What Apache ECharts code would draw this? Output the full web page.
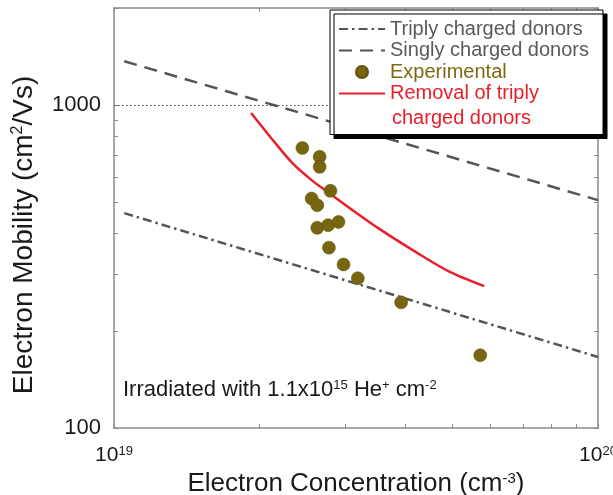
<!DOCTYPE html>
<html>
<head>
<meta charset="utf-8">
<script src="https://cdn.jsdelivr.net/npm/echarts@6/dist/echarts.min.js"></script>
<style>
  html, body { margin: 0; padding: 0; background: #fff; }
  #chart { width: 613px; height: 495px; }
</style>
</head>
<body>
<div id="chart"></div>
<script>
// 数据
const triplyX = [1.05e19, 1e20];
const triplyY = [463, 166];
const singlyX = [1.05e19, 1e20];
const singlyY = [1368, 508];
const expX = [2.45e19, 2.66e19, 2.66e19, 2.80e19, 2.56e19, 2.63e19, 2.63e19, 2.77e19, 2.91e19, 2.78e19, 2.98e19, 3.19e19, 3.92e19, 5.71e19];
const expY = [737, 692, 644, 543, 514, 490, 417, 425, 435, 362, 321, 291, 245, 168];
const removalX = [1.92e19, 2.13e19, 2.34e19, 2.56e19, 2.79e19, 3.11e19, 3.54e19, 4.24e19, 4.93e19, 5.82e19];
const removalY = [946, 779, 660, 586, 533, 473, 413, 348, 305, 275];
const refLineY = 1000;

const xTicks = [1e19, 2e19, 3e19, 4e19, 5e19, 6e19, 7e19, 8e19, 9e19, 1e20];
const xLabels = [1e19, 1e20];
const yTicks = [100, 200, 300, 400, 500, 600, 700, 800, 900, 1000, 2000];
const yLabels = [100, 1000];

const FONT = 'Liberation Sans, Arial, sans-serif';
const AXIS_COLOR = '#8a8a8a';

const zip = (xs, ys) => xs.map((x, i) => [x, ys[i]]);

function supRich(size, supSize) {
    return {
        b: { fontSize: size, fontFamily: FONT, color: '#1a1a1a' },
        s: { fontSize: supSize, fontFamily: FONT, color: '#1a1a1a', verticalAlign: 'top' }
    };
}

const chart = echarts.init(document.getElementById('chart'));

function xAxisCfg(pos, showLabel) {
    return {
        type: 'log',
        logBase: 10,
        position: pos,
        min: 1e19,
        max: 1e20,
        axisLine: { show: true, onZero: false, lineStyle: { color: AXIS_COLOR, width: 1.5 } },
        axisTick: { show: true, inside: true, length: 4, customValues: xTicks, lineStyle: { color: AXIS_COLOR } },
        axisLabel: {
            show: showLabel,
            customValues: xLabels,
            margin: 17,
            formatter: v => '{b|10}{s|' + Math.round(Math.log10(v)) + '}',
            rich: supRich(21, 13)
        },
        splitLine: { show: false },
        minorTick: { show: false }
    };
}

function yAxisCfg(pos, showLabel) {
    return {
        type: 'log',
        logBase: 10,
        position: pos,
        min: 100,
        max: 2000,
        axisLine: { show: true, onZero: false, lineStyle: { color: AXIS_COLOR, width: 1.5 } },
        axisTick: { show: true, inside: true, length: 4, customValues: yTicks, lineStyle: { color: AXIS_COLOR } },
        axisLabel: {
            show: showLabel,
            customValues: yLabels,
            margin: 13,
            fontSize: 22,
            fontFamily: FONT,
            color: '#1a1a1a',
            formatter: v => String(Math.round(v))
        },
        splitLine: { show: false },
        minorTick: { show: false }
    };
}

const xMain = xAxisCfg('bottom', true);
xMain.name = 'Electron Concentration (cm{s|-3})';
xMain.nameLocation = 'middle';
xMain.nameGap = 41;
xMain.nameTextStyle = { fontSize: 26, fontFamily: FONT, color: '#1a1a1a', rich: supRich(26, 15) };

const yMain = yAxisCfg('left', true);
yMain.name = 'Electron Mobility (cm{s|2}/Vs)';
yMain.nameLocation = 'middle';
yMain.nameGap = 76;
yMain.nameTextStyle = { fontSize: 28, fontFamily: FONT, color: '#1a1a1a', rich: supRich(28, 16), padding: [0, 34, 0, 0] };

const names = ['Triply charged donors', 'Singly charged donors', 'Experimental', 'Removal of triply charged donors'];

const option = {
    backgroundColor: '#fff',
    animation: false,
    grid: { left: 114, right: 15, top: 8, bottom: 67, containLabel: false, outerBoundsMode: 'none' },
    xAxis: [xMain, xAxisCfg('top', false)],
    yAxis: [yMain, yAxisCfg('right', false)],
    legend: {
        orient: 'vertical',
        left: 330,
        top: 10,
        padding: [9, 14, 31, 8],
        itemWidth: 46,
        itemHeight: 12,
        itemGap: 1.5,
        backgroundColor: '#fff',
        borderColor: '#000',
        borderWidth: 1,
        shadowColor: '#000',
        shadowBlur: 0,
        shadowOffsetX: 4,
        shadowOffsetY: 4,
        selectedMode: false,
        textStyle: { fontSize: 20, fontFamily: FONT, color: '#5a5a5a' },
        formatter: n => n === names[3] ? 'Removal of triply' : n,
        data: [
            { name: names[0], textStyle: { color: '#5a5a5a' }, itemStyle: { opacity: 0 } },
            { name: names[1], textStyle: { color: '#5a5a5a' }, itemStyle: { opacity: 0 } },
            { name: names[2], textStyle: { color: '#7b6a12' } },
            { name: names[3], textStyle: { color: '#e8202a' }, itemStyle: { opacity: 0 } }
        ],
        z: 10
    },
    graphic: [
        {
            type: 'text',
            left: 392,
            top: 108,
            z: 100,
            style: { text: 'charged donors', fill: '#e8202a', font: '20px ' + FONT }
        },
        {
            type: 'text',
            left: 123,
            top: 379,
            z: 100,
            style: {
                text: 'Irradiated with 1.1x10{s|15} He{s|+} cm{s|-2}',
                fill: '#1a1a1a',
                font: '22px ' + FONT,
                rich: {
                    s: { fontSize: 13, fontFamily: FONT, fill: '#1a1a1a', verticalAlign: 'top' }
                }
            }
        }
    ],
    series: [
        {
            name: names[0],
            type: 'line',
            data: zip(triplyX, triplyY),
            symbol: 'none',
            lineStyle: { color: '#555', width: 2.5, type: [9, 4, 2.5, 4] },
            itemStyle: { color: '#555' },
            markLine: {
                silent: true,
                symbol: 'none',
                label: { show: false },
                lineStyle: { color: '#444', width: 1, type: [1.5, 2.5] },
                data: [{ yAxis: refLineY }]
            },
            z: 3
        },
        {
            name: names[1],
            type: 'line',
            data: zip(singlyX, singlyY),
            symbol: 'none',
            lineStyle: { color: '#555', width: 2.5, type: [13, 8] },
            itemStyle: { color: '#555' },
            z: 3
        },
        {
            name: names[2],
            type: 'scatter',
            data: zip(expX, expY),
            symbol: 'circle',
            symbolSize: 13,
            itemStyle: { color: '#776610', borderColor: '#5f520c', borderWidth: 0.5, opacity: 1 },
            z: 4
        },
        {
            name: names[3],
            type: 'line',
            data: zip(removalX, removalY),
            symbol: 'none',
            smooth: 0.3,
            lineStyle: { color: '#e8202a', width: 2.5 },
            itemStyle: { color: '#e8202a' },
            z: 3
        }
    ]
};

chart.setOption(option);
</script>
</body>
</html>
